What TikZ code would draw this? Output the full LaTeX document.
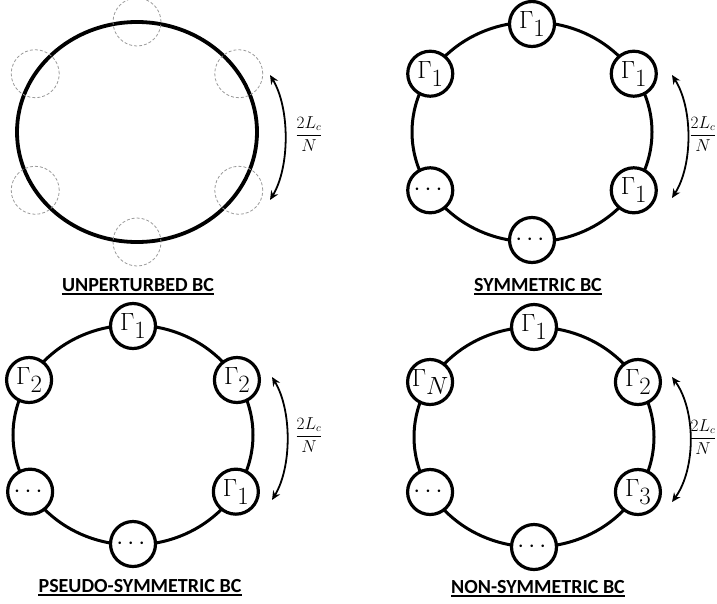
\documentclass[tikz,border=0pt]{standalone}
\usepackage{amsmath,amssymb}
\usepackage{fontspec}
\usetikzlibrary{arrows.meta}
\newfontfamily\capfont{Carlito}
\newcommand{\Gam}[1]{$\Gamma$\raisebox{-8pt}{$#1$}}

\begin{document}
\begin{tikzpicture}[x=1pt, y=-1pt,
  site/.style={circle, draw, line width=3.2pt, fill=white, minimum size=45pt, inner sep=0pt, font=\fontsize{24}{28}\selectfont},
  ghost/.style={circle, draw=gray!80, dash pattern=on 3pt off 2pt, line width=0.8pt, minimum size=48pt, inner sep=0pt},
  ring/.style={line width=3pt},
  caption/.style={anchor=base, inner sep=0pt, font=\capfont\bfseries\fontsize{20}{24}\selectfont},
  underbar/.style={line width=1.3pt},
  spacing/.style={font=\fontsize{16}{19}\selectfont},
  hop/.style={{Stealth[length=9pt,width=8pt]}-{Stealth[length=9pt,width=8pt]}, line width=1.8pt}]
\useasboundingbox (0,0) rectangle (717,603);

% Unperturbed BC
\begin{scope}[shift={(137,132)}]
\draw[ring, line width=3.8pt] (0,0) ellipse [x radius=120pt, y radius=110pt];
\node[ghost] (u1) at (90:110pt) {};
\node[ghost] (u2) at (32:120pt and 110pt) {};
\node[ghost] (u3) at (328:120pt and 110pt) {};
\node[ghost] (u4) at (270:110pt) {};
\node[ghost] (u5) at (212:120pt and 110pt) {};
\node[ghost] (u6) at (148:120pt and 110pt) {};
\end{scope}
\coordinate (uTop) at (270,75);
\coordinate (uBot) at (270,200);
\draw[hop] (uTop) .. controls (290,108) and (290,167) .. (uBot);
\node[spacing] (uLen) at (309,134) {$\dfrac{2L_c}{N}$};
\node[caption] (uCap) at (138,291) {UNPERTURBED BC};
\draw[underbar] ([yshift=-3pt]uCap.base west) -- ([yshift=-3pt]uCap.base east);

% Symmetric BC
\begin{scope}[shift={(532,132)}]
\draw[ring] (0,0) ellipse [x radius=120pt, y radius=110pt];
\node[site] (s1) at (90:108pt) {\Gam{1}};
\node[site] (s2) at (32:120pt and 110pt) {\Gam{1}};
\node[site] (s3) at (328:120pt and 110pt) {\Gam{1}};
\node[site] (s4) at (270:108pt) {$\cdots$};
\node[site] (s5) at (212:120pt and 110pt) {$\cdots$};
\node[site] (s6) at (148:120pt and 110pt) {\Gam{1}};
\end{scope}
\coordinate (sTop) at (672,75);
\coordinate (sBot) at (672,198);
\draw[hop] (sTop) .. controls (693,108) and (693,165) .. (sBot);
\node[spacing] (sLen) at (703,134) {$\dfrac{2L_c}{N}$};
\node[caption] (sCap) at (538,291) {SYMMETRIC BC};
\draw[underbar] ([yshift=-3pt]sCap.base west) -- ([yshift=-3pt]sCap.base east);

% Pseudo-symmetric BC
\begin{scope}[shift={(133,435)}]
\draw[ring] (0,0) ellipse [x radius=120pt, y radius=110pt];
\node[site] (p1) at (90:109pt) {\Gam{1}};
\node[site] (p2) at (30:120pt and 110pt) {\Gam{2}};
\node[site] (p3) at (329:120pt and 110pt) {\Gam{1}};
\node[site] (p4) at (270:109pt) {$\cdots$};
\node[site] (p5) at (211:120pt and 110pt) {$\cdots$};
\node[site] (p6) at (150:120pt and 110pt) {\Gam{2}};
\end{scope}
\coordinate (pTop) at (272,377);
\coordinate (pBot) at (272,500);
\draw[hop] (pTop) .. controls (292,410) and (292,467) .. (pBot);
\node[spacing] (pLen) at (309,435) {$\dfrac{2L_c}{N}$};
\node[caption] (pCap) at (140,592) {PSEUDO-SYMMETRIC BC};
\draw[underbar] ([yshift=-3pt]pCap.base west) -- ([yshift=-3pt]pCap.base east);

% Non-symmetric BC
\begin{scope}[shift={(534,437)}]
\draw[ring] (0,0) ellipse [x radius=120pt, y radius=110pt];
\node[site] (n1) at (90:110pt) {\Gam{1}};
\node[site] (n2) at (30:120pt and 110pt) {\Gam{2}};
\node[site] (n3) at (330:120pt and 110pt) {\Gam{3}};
\node[site] (n4) at (270:110pt) {$\cdots$};
\node[site] (n5) at (210:120pt and 110pt) {$\cdots$};
\node[site] (n6) at (150:120pt and 110pt) {\Gam{N}};
\end{scope}
\coordinate (nTop) at (672,377);
\coordinate (nBot) at (672,502);
\draw[hop] (nTop) .. controls (696,410) and (696,469) .. (nBot);
\node[spacing] (nLen) at (703,437) {$\dfrac{2L_c}{N}$};
\node[caption] (nCap) at (538,593) {NON-SYMMETRIC BC};
\draw[underbar] ([yshift=-3pt]nCap.base west) -- ([yshift=-3pt]nCap.base east);
\end{tikzpicture}
\end{document}
